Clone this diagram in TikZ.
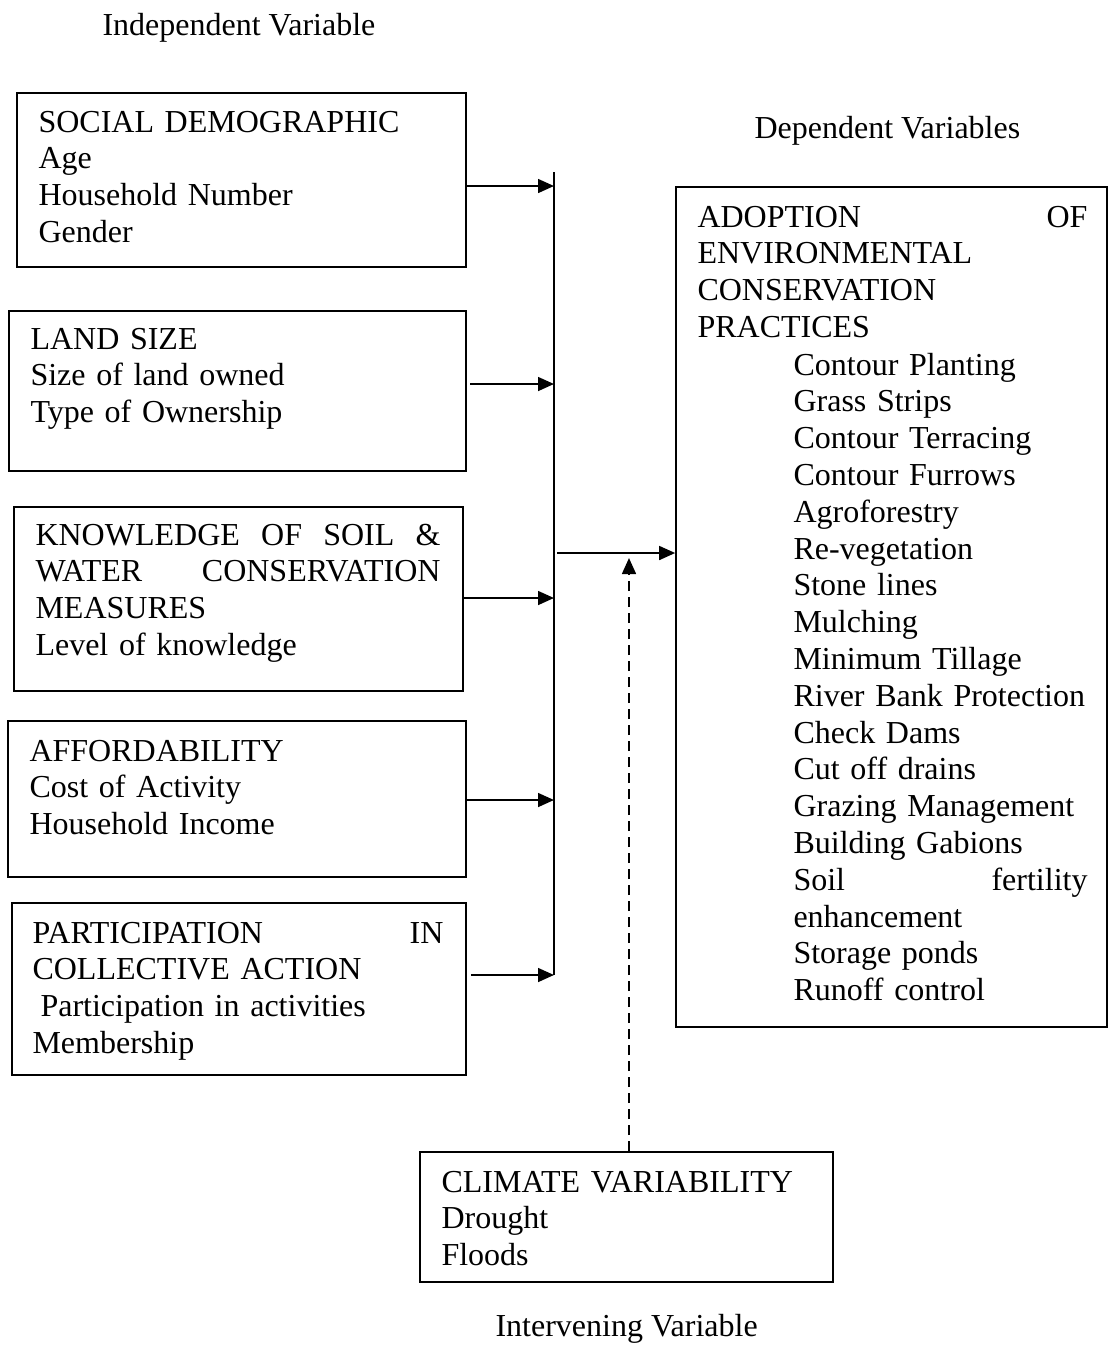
\documentclass[tikz,border=0pt]{standalone}
\usepackage{fontspec}
\setmainfont{Liberation Serif}
\usetikzlibrary{arrows.meta,fit}
\tikzset{>/.tip={Triangle[length=6pt,width=5.2pt]},
  box/.style={draw, line width=0.6pt, inner sep=0pt},
  txt/.style={anchor=base west, align=left, inner sep=0pt, font=\fontsize{12}{13.8}\selectfont},
  link/.style={line width=0.75pt},
  dashlink/.style={line width=0.75pt, dash pattern=on 3.75pt off 2.25pt}}

\begin{document}
\begin{tikzpicture}[x=0.375pt, y=-0.375pt]
\useasboundingbox (0,0) rectangle (1108,1349);

\node[txt] (indep)  at (102,35)   {Independent Variable};
\node[txt] (dep)    at (754,138)  {Dependent Variables};
\node[txt] (interv) at (495,1336) {Intervening Variable};

\node[box, fit={(17,93) (466,267)}]    (social)  {};
\node[box, fit={(9,311) (466,471)}]    (land)    {};
\node[box, fit={(14,507) (463,691)}]   (know)    {};
\node[box, fit={(8,721) (466,877)}]    (afford)  {};
\node[box, fit={(12,903) (466,1075)}]  (part)    {};
\node[box, fit={(676,187) (1107,1027)}] (adopt)  {};
\node[box, fit={(420,1152) (833,1282)}] (climate) {};

\node[txt, text width=160pt] (socialtxt) at (38,132) {SOCIAL DEMOGRAPHIC\\Age\\Household Number\\Gender};
\node[txt, text width=160pt] (landtxt) at (30,349) {LAND SIZE\\Size of land owned\\Type of Ownership};
\node[txt, text width=151.9pt] (knowtxt) at (35,545) {KNOWLEDGE\hfill OF\hfill SOIL\hfill \&\\WATER\hfill CONSERVATION\\MEASURES\\Level of knowledge};
\node[txt, text width=160pt] (affordtxt) at (29,761) {AFFORDABILITY\\Cost of Activity\\Household Income};
\node[txt, text width=154.1pt] (parttxt) at (32,943) {PARTICIPATION\hfill IN\\COLLECTIVE ACTION\\\hspace*{3pt}Participation in activities\\Membership};
\node[txt, text width=146.25pt] (adopttxt) at (697,227) {ADOPTION\hfill OF\\ENVIRONMENTAL\\CONSERVATION\\PRACTICES};
\node[txt, text width=110.25pt] (practtxt) at (793,375) {Contour Planting\\Grass Strips\\Contour Terracing\\Contour Furrows\\Agroforestry\\Re-vegetation\\Stone lines\\Mulching\\Minimum Tillage\\River Bank Protection\\Check Dams\\Cut off drains\\Grazing Management\\Building Gabions\\Soil\hfill fertility\\enhancement\\Storage ponds\\Runoff control};
\node[txt, text width=150pt] (climatetxt) at (441,1192) {CLIMATE VARIABILITY\\Drought\\Floods};

% collecting line
\coordinate (bustop) at (554,172);
\coordinate (busbot) at (554,975);
\coordinate (in1) at (554,186);
\coordinate (in2) at (554,384);
\coordinate (in3) at (554,598);
\coordinate (in4) at (554,800);
\coordinate (in5) at (554,975);
\coordinate (out) at (557,553);
\coordinate (drop) at (629,558);

\draw[link] (bustop) -- (busbot);
\draw[link,->] (social.east |- in1) -- (in1);
\draw[link,->,shorten <=1.2pt] (land.east |- in2) -- (in2);
\draw[link,->] (know.east |- in3)   -- (in3);
\draw[link,->] (afford.east |- in4) -- (in4);
\draw[link,->,shorten <=1.5pt] (part.east |- in5) -- (in5);
\draw[link,->] (out) -- (out -| adopt.west);
\draw[dashlink,->] (climate.north -| drop) -- (drop);
\end{tikzpicture}
\end{document}
